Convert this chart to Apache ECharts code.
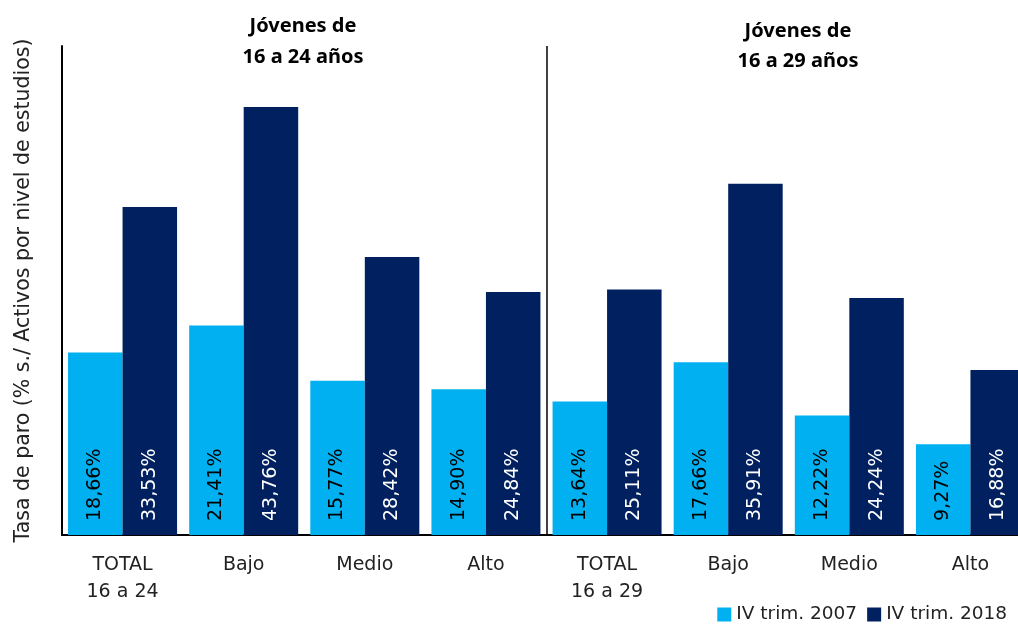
<!DOCTYPE html>
<html>
<head>
<meta charset="utf-8">
<script src="https://cdn.jsdelivr.net/npm/echarts@6/dist/echarts.min.js"></script>
<style>html,body{margin:0;padding:0;background:#fff}#c{width:1018px;height:628px}</style>
</head>
<body>
<div id="c"></div>
<script>
const categories = ['TOTAL\n16 a 24', 'Bajo', 'Medio', 'Alto', 'TOTAL\n16 a 29', 'Bajo', 'Medio', 'Alto'];
const series2007 = [18.66, 21.41, 15.77, 14.90, 13.64, 17.66, 12.22, 9.27];
const series2018 = [33.53, 43.76, 28.42, 24.84, 25.11, 35.91, 24.24, 16.88];
const seriesNames = ['IV trim. 2007', 'IV trim. 2018'];
const groupTitles = ['Jóvenes de\n16 a 24 años', 'Jóvenes de\n16 a 29 años'];
const groupSize = 4;
const yAxisName = 'Tasa de paro (% s./ Activos por nivel de estudios)';

const FONT = 'DejaVu Sans';
const fmt = p => p.value.toFixed(2).replace('.', ',') + '%';

const chart = echarts.init(document.getElementById('c'), null, {renderer: 'canvas'});
chart.setOption({
  animation: false,
  backgroundColor: '#fff',
  title: [
    {text: groupTitles[0], left: 298, top: 6, textAlign: 'center',
     textStyle: {fontFamily: 'Noto Sans', fontWeight: 'bold', fontSize: 20, lineHeight: 31, color: '#000'}},
    {text: groupTitles[1], left: 793, top: 11, textAlign: 'center',
     textStyle: {fontFamily: 'Noto Sans', fontWeight: 'bold', fontSize: 20, lineHeight: 30, color: '#000'}}
  ],
  legend: {
    data: seriesNames,
    right: 6, bottom: -1,
    itemWidth: 14, itemHeight: 14, itemGap: 10,
    icon: 'rect',
    textStyle: {fontFamily: FONT, fontSize: 18.5, color: '#222'}
  },
  grid: {left: 62, top: 46, bottom: 93, width: 969, containLabel: false, outerBoundsMode: 'none'},
  xAxis: [{
    type: 'category',
    data: categories,
    axisLine: {lineStyle: {color: '#000', width: 2}},
    axisTick: {show: false},
    axisLabel: {fontFamily: FONT, fontSize: 19, color: '#222', margin: 17, lineHeight: 27, interval: 0},
    splitLine: {show: false}
  }, {
    type: 'value',
    position: 'bottom',
    min: 0, max: categories.length, interval: groupSize,
    axisLine: {show: false},
    axisTick: {show: false},
    axisLabel: {show: false},
    splitLine: {show: true, lineStyle: {color: '#000', width: 1.5}}
  }],
  yAxis: {
    type: 'value',
    min: 0, max: 50,
    name: yAxisName,
    nameLocation: 'middle',
    nameGap: 28,
    nameTextStyle: {fontFamily: FONT, fontSize: 20.5, color: '#222'},
    axisLine: {show: true, lineStyle: {color: '#000', width: 2}},
    axisTick: {show: false},
    axisLabel: {show: false},
    splitLine: {show: false}
  },
  series: [
    {
      name: seriesNames[0], type: 'bar', data: series2007, xAxisIndex: 0,
      barGap: '0%', barCategoryGap: '10%',
      itemStyle: {color: '#00B0F0'},
      label: {show: true, position: 'insideBottom', rotate: 90, align: 'left', verticalAlign: 'middle',
              distance: 14, formatter: fmt, fontFamily: FONT, fontSize: 19, color: '#000'}
    },
    {
      name: seriesNames[1], type: 'bar', data: series2018, xAxisIndex: 0,
      barGap: '0%', barCategoryGap: '10%',
      itemStyle: {color: '#002060'},
      label: {show: true, position: 'insideBottom', rotate: 90, align: 'left', verticalAlign: 'middle',
              distance: 14, formatter: fmt, fontFamily: FONT, fontSize: 19, color: '#fff'}
    }
  ]
});
</script>
</body>
</html>
